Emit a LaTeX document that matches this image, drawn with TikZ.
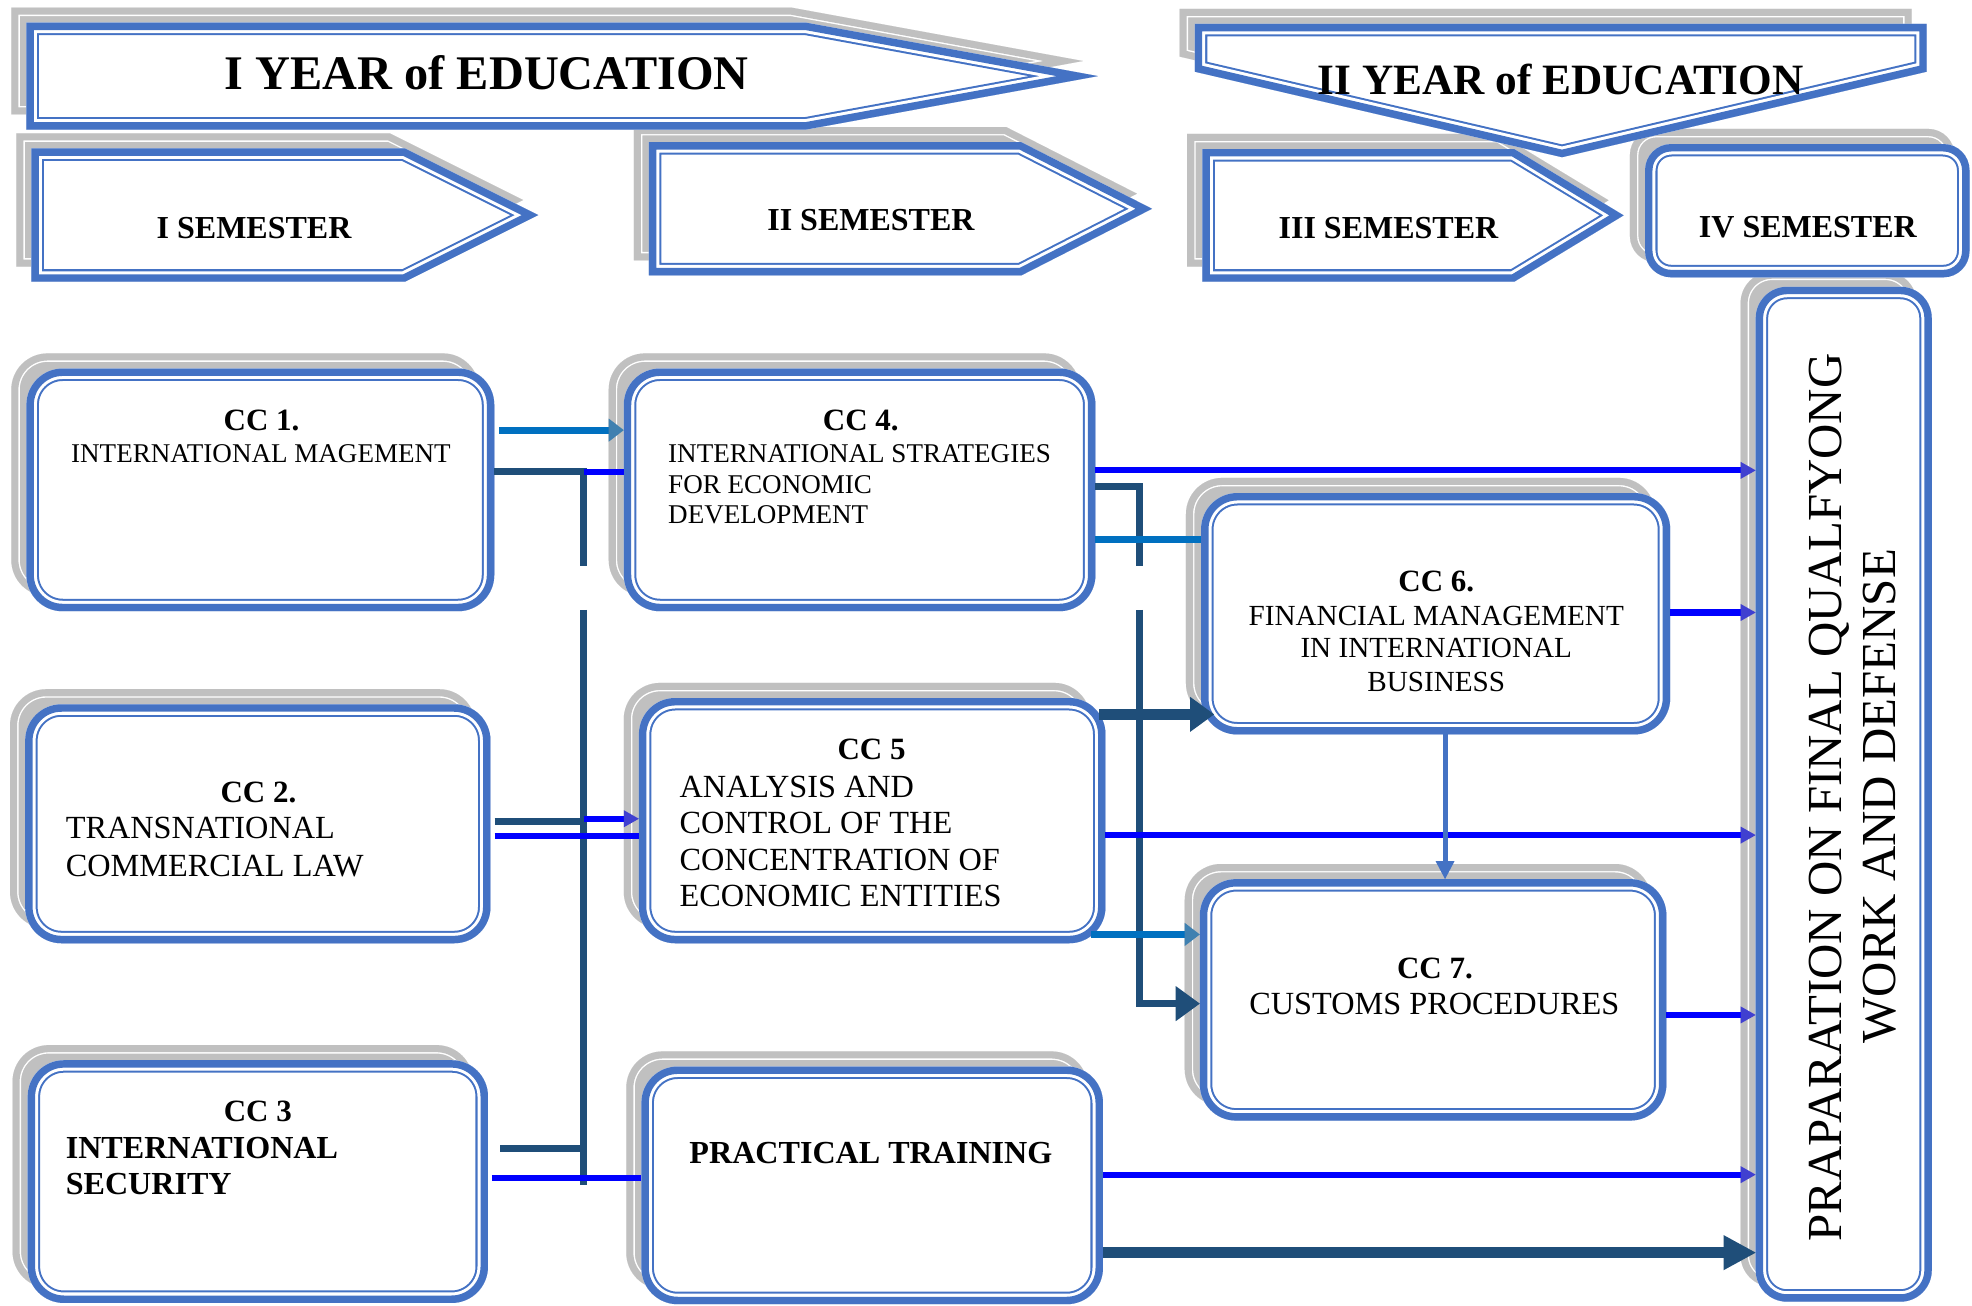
\documentclass[tikz,border=0pt]{standalone}
\usepackage{fontspec}
\setmainfont{Liberation Serif}
\usetikzlibrary{arrows.meta,fit}
\definecolor{boxblue}{HTML}{4472C4}
\definecolor{shadowgray}{HTML}{C0C0C0}
\definecolor{cNavy}{HTML}{1F4E79}
\definecolor{cMed}{HTML}{0070C0}
\definecolor{cBlue}{HTML}{0000FF}
\definecolor{cHead}{HTML}{4040D0}
\definecolor{cSteel}{HTML}{3F80B0}

\newcommand\ShadowShape[1]{%
  \begin{scope}[shift={(-12,-12)}]
    \fill[shadowgray] #1;
    \begin{scope}
      \clip #1;
      \draw[white,line width=8.4pt] #1;
      \draw[shadowgray,line width=7pt] #1;
    \end{scope}
  \end{scope}}
\newcommand\MainShape[1]{%
  \begin{scope}
    \clip #1;
    \fill[white] #1;
    \draw[boxblue,line width=12.4pt] #1;
    \draw[white,line width=10.4pt] #1;
    \draw[boxblue,line width=7.4pt] #1;
  \end{scope}}
\newcommand\RRShadow[5]{\ShadowShape{[rounded corners=#5] (#1,#2) rectangle (#3,#4)}}
\newcommand\RRMain[5]{\MainShape{[rounded corners=#5] (#1,#2) rectangle (#3,#4)}}
\newcommand\ArrShadow[5]{\ShadowShape{(#1,#2) -- (#4,#2) -- (#5,{(#2+#3)/2}) -- (#4,#3) -- (#1,#3) -- cycle}}
\newcommand\ArrMain[5]{\MainShape{(#1,#2) -- (#4,#2) -- (#5,{(#2+#3)/2}) -- (#4,#3) -- (#1,#3) -- cycle}}

\tikzset{
  area/.style={inner sep=0pt, outer sep=0pt},
  banA/.style={font=\bfseries\fontsize{24}{28}\selectfont, anchor=base, inner sep=0pt},
  banB/.style={font=\bfseries\fontsize{21.5}{26}\selectfont, anchor=base, inner sep=0pt},
  semtxt/.style={font=\bfseries\fontsize{15.9}{19}\selectfont, anchor=base, inner sep=0pt},
  cctitle/.style={font=\bfseries\fontsize{15.4}{18}\selectfont, anchor=base, inner sep=0pt},
  smalltxt/.style={font=\fontsize{13.45}{16}\selectfont, inner sep=0pt},
  midtxt/.style={font=\fontsize{14.5}{17}\selectfont, inner sep=0pt},
  bigtxt/.style={font=\fontsize{16.05}{19}\selectfont, inner sep=0pt},
  boldtxt/.style={font=\bfseries\fontsize{15.95}{19}\selectfont, inner sep=0pt},
  preptxt/.style={font=\fontsize{24.3}{28}\selectfont, rotate=90, anchor=base, inner sep=0pt},
  darkline/.style={draw=cNavy, line width=3.4pt},
  blueline/.style={draw=cBlue, line width=3pt},
  medline/.style={draw=cMed, line width=3.6pt},
  thickdark/.style={draw=cNavy, line width=5.6pt},
  c6line/.style={draw=boxblue, line width=2.5pt},
  bluetip/.tip={Triangle[length=7.5pt,width=8.5pt,color=cHead,line width'=0pt]},
  steeltip/.tip={Triangle[length=7.5pt,width=11.5pt,color=cSteel,line width'=0pt]},
  navytip/.tip={Triangle[length=12pt,width=17.5pt,color=cNavy,line width'=0pt]},
  bignavytip/.tip={Triangle[length=16pt,width=17.5pt,color=cNavy,line width'=0pt]},
  c6tip/.tip={Triangle[length=9pt,width=9.5pt,color=boxblue,line width'=0pt]},
}

\begin{document}
\begin{tikzpicture}[x=0.625pt,y=-0.625pt]
\useasboundingbox (0,0) rectangle (1568,1038);
\fill[white] (0,0) rectangle (1568,1038);

% ---------- shadows ----------
\ArrShadow{21}{18}{103}{641}{873}
\ShadowShape{(950,19) -- (1532,19) -- (1532,57) -- (1242,125) -- (950,57) -- cycle}
\ArrShadow{25}{118}{224}{322}{428}
\ArrShadow{516}{113}{219}{812}{916}
\ArrShadow{956}{118.5}{224}{1204}{1291}
\RRShadow{1308}{114.5}{1566}{220.5}{13pt}
\RRShadow{21}{293}{393}{486}{18pt}
\RRShadow{496}{293}{871}{486}{18pt}
\RRShadow{20}{560}{390}{750}{18pt}
\RRShadow{508}{555}{879}{750}{18pt}
\RRShadow{955}{392}{1328}{584}{18pt}
\RRShadow{954}{699}{1325}{891}{18pt}
\RRShadow{22}{843}{388}{1036}{18pt}
\RRShadow{510}{848}{877}{1037}{18pt}
\RRShadow{1396}{228}{1536}{1035}{15.6pt}

% ---------- main shapes ----------
\ArrMain{21}{18}{103}{641}{873}
\ArrMain{25}{118}{224}{322}{428}
\ArrMain{516}{113}{219}{812}{916}
\ArrMain{956}{118.5}{224}{1204}{1291}
\MainShape{(950,19) -- (1532,19) -- (1532,57) -- (1242,125) -- (950,57) -- cycle}
\RRMain{1308}{114.5}{1566}{220.5}{13pt}
\RRMain{21}{293}{393}{486}{18pt}
\RRMain{496}{293}{871}{486}{18pt}
\RRMain{20}{560}{390}{750}{18pt}
\RRMain{508}{555}{879}{750}{18pt}
\RRMain{955}{392}{1328}{584}{18pt}
\RRMain{954}{699}{1325}{891}{18pt}
\RRMain{22}{843}{388}{1036}{18pt}
\RRMain{510}{848}{877}{1037}{18pt}
\RRMain{1396}{228}{1536}{1035}{15.6pt}

% ---------- named areas ----------
\node[area, fit={(21,18) (873,103)}] (ban1) {};
\node[area, fit={(950,19) (1532,125)}] (ban2) {};
\node[area, fit={(25,118) (428,224)}] (sem1) {};
\node[area, fit={(516,113) (916,219)}] (sem2) {};
\node[area, fit={(956,118.5) (1291,224)}] (sem3) {};
\node[area, fit={(1308,114.5) (1566,220.5)}] (sem4) {};
\node[area, fit={(21,293) (393,486)}] (cc1) {};
\node[area, fit={(496,293) (871,486)}] (cc4) {};
\node[area, fit={(20,560) (390,750)}] (cc2) {};
\node[area, fit={(508,555) (879,750)}] (cc5) {};
\node[area, fit={(955,392) (1328,584)}] (cc6) {};
\node[area, fit={(954,699) (1325,891)}] (cc7) {};
\node[area, fit={(22,843) (388,1036)}] (cc3) {};
\node[area, fit={(510,848) (877,1037)}] (pt) {};
\node[area, fit={(1396,228) (1536,1035)}] (prep) {};

% ---------- texts ----------
\node[banA] (b1t) at (387,71) {I YEAR of EDUCATION};
\node[banB] (b2t) at (1241,75.5) {II YEAR of EDUCATION};
\node[semtxt] (s1t) at (202,189.5) {I SEMESTER};
\node[semtxt] (s2t) at (692.5,183.5) {II SEMESTER};
\node[semtxt] (s3t) at (1104,189.5) {III SEMESTER};
\node[semtxt] (s4t) at (1437.5,188.5) {IV SEMESTER};

\node[cctitle] (t1a) at (208,342) {CC 1.};
\node[smalltxt, anchor=base] (t1b) at (207.5,368) {INTERNATIONAL MAGEMENT};
\node[cctitle] (t4a) at (684.5,342) {CC 4.};
\node[smalltxt, anchor=base west] (t4b) at (531,368) {INTERNATIONAL STRATEGIES};
\node[smalltxt, anchor=base west] (t4c) at (531,392) {FOR ECONOMIC};
\node[smalltxt, anchor=base west] (t4d) at (531,416) {DEVELOPMENT};
\node[cctitle] (t2a) at (205.5,638) {CC 2.};
\node[bigtxt, anchor=base west] (t2b) at (52,667) {TRANSNATIONAL};
\node[bigtxt, anchor=base west] (t2c) at (52,697) {COMMERCIAL LAW};
\node[cctitle] (t5a) at (693,604) {CC 5};
\node[bigtxt, anchor=base west] (t5b) at (540,634) {ANALYSIS AND};
\node[bigtxt, anchor=base west] (t5c) at (540,663) {CONTROL OF THE};
\node[bigtxt, anchor=base west] (t5d) at (540,692) {CONCENTRATION OF};
\node[bigtxt, anchor=base west] (t5e) at (540,721) {ECONOMIC ENTITIES};
\node[cctitle] (t6a) at (1142,470) {CC 6.};
\node[midtxt, anchor=base] (t6b) at (1142,497) {FINANCIAL MANAGEMENT};
\node[midtxt, anchor=base] (t6c) at (1142,523) {IN INTERNATIONAL};
\node[midtxt, anchor=base] (t6d) at (1142,550) {BUSINESS};
\node[cctitle] (t7a) at (1141,778) {CC 7.};
\node[bigtxt, anchor=base] (t7b) at (1140.5,807) {CUSTOMS PROCEDURES};
\node[cctitle] (t3a) at (205,892) {CC 3};
\node[boldtxt, anchor=base west] (t3b) at (52,921) {INTERNATIONAL};
\node[boldtxt, anchor=base west] (t3c) at (52,950) {SECURITY};
\node[boldtxt, anchor=base] (tpt) at (692.5,925) {PRACTICAL TRAINING};
\node[preptxt] (tp1) at (1464,634) {PRAPARATION ON FINAL QUALFYONG};
\node[preptxt] (tp2) at (1507,633) {WORK AND DEFENSE};

% ---------- helper coordinates ----------
\foreach \v in {342,375,374,387,429,487,568,651,653,664,665,743,798,807,913,934,937,996}
  {\coordinate (L\v) at (0,\v);}
\coordinate (busx) at (464,0);
\coordinate (gapAtop) at (464,450);
\coordinate (gapAbot) at (464,485);
\coordinate (busend) at (464,942);
\coordinate (gapBtop) at (906,450);
\coordinate (gapBbot) at (906,485);
\coordinate (X1149) at (1149,0);

% ---------- connectors ----------
\draw[medline, -{steeltip}, shorten <=2.5pt] (cc1.east |- L342) -- (cc4.west |- L342);
\draw[darkline] (cc1.east |- L375) -| (gapAtop);
\draw[darkline] (gapAbot) -- (busend);
\draw[blueline] (busx |- L375) -- (cc4.west |- L375);

\draw[darkline, shorten <=2pt] (cc2.east |- L653) -- (busx |- L653);
\draw[blueline, -{bluetip}] (busx |- L651) -- (cc5.west |- L651);
\draw[blueline, shorten <=2pt] (cc2.east |- L665) -- (cc5.west |- L665);

\draw[darkline, shorten <=6pt] (cc3.east |- L913) -- (busx |- L913);
\draw[blueline, shorten <=2pt] (cc3.east |- L937) -- (pt.west |- L937);

\draw[blueline, -{bluetip}] (cc4.east |- L374) -- (prep.west |- L374);
\draw[darkline] (cc4.east |- L387) -| (gapBtop);
\draw[darkline, -{navytip}] (gapBbot) |- (cc7.west |- L798);
\draw[medline] (cc4.east |- L429) -- (cc6.west |- L429);

\draw[thickdark, -{navytip}, shorten <=-3.2pt, shorten >=-6.5pt] (cc5.east |- L568) -- (cc6.west |- L568);
\draw[blueline, -{bluetip}] (cc5.east |- L664) -- (prep.west |- L664);
\draw[medline, -{steeltip}, shorten <=-7pt] (cc5.east |- L743) -- (cc7.west |- L743);

\draw[blueline, -{bluetip}] (cc6.east |- L487) -- (prep.west |- L487);
\draw[c6line, -{c6tip}] (cc6.south -| X1149) -- (cc7.north -| X1149);
\draw[blueline, -{bluetip}] (cc7.east |- L807) -- (prep.west |- L807);

\draw[blueline, -{bluetip}] (pt.east |- L934) -- (prep.west |- L934);
\draw[thickdark, -{bignavytip}] (pt.east |- L996) -- (prep.west |- L996);
\end{tikzpicture}
\end{document}
